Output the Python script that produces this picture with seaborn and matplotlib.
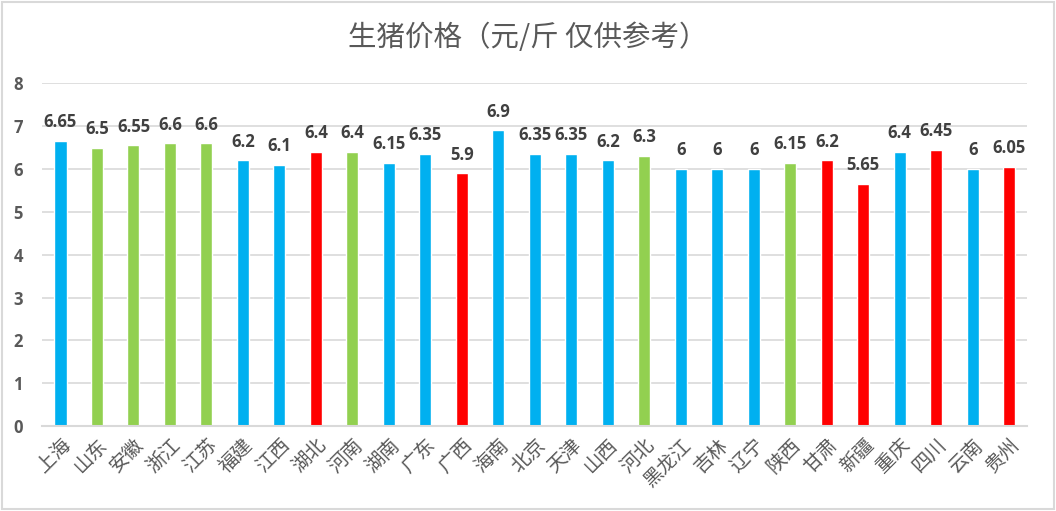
import matplotlib
matplotlib.use('Agg')
import matplotlib.pyplot as plt
import pandas as pd
import seaborn as sn

provinces = ['上海', '山东', '安徽', '浙江', '江苏', '福建', '江西', '湖北', '河南', '湖南',
             '广东', '广西', '海南', '北京', '天津', '山西', '河北', '黑龙江', '吉林', '辽宁',
             '陕西', '甘肃', '新疆', '重庆', '四川', '云南', '贵州']
prices = [6.65, 6.5, 6.55, 6.6, 6.6, 6.2, 6.1, 6.4, 6.4, 6.15,
          6.35, 5.9, 6.9, 6.35, 6.35, 6.2, 6.3, 6, 6, 6,
          6.15, 6.2, 5.65, 6.4, 6.45, 6, 6.05]
groups = ['b', 'g', 'g', 'g', 'g', 'b', 'b', 'r', 'g', 'b',
          'b', 'r', 'b', 'b', 'b', 'b', 'g', 'b', 'b', 'b',
          'g', 'r', 'r', 'b', 'r', 'b', 'r']
palette = {'b': '#00B0F0', 'g': '#92D050', 'r': '#FF0000'}
yticks = [0, 1, 2, 3, 4, 5, 6, 7, 8]

sn.set_style('white')
plt.rcParams['font.family'] = ['Noto Sans CJK SC', 'DejaVu Sans']
num_font = ['Open Sans', 'DejaVu Sans']

df = pd.DataFrame({'province': provinces, 'price': prices, 'group': groups})

fig = plt.figure(figsize=(10.56, 5.11), dpi=100)
ax = fig.add_axes([0.040, 0.166, 0.933, 0.671])
sn.barplot(data=df, x='province', y='price', hue='group', palette=palette,
           dodge=False, width=0.33, saturation=1, legend=False, ax=ax)

ax.set_ylim(0, 8)
ax.set_xlim(-0.5, len(provinces) - 0.5)
ax.set_yticks(yticks)
ax.set_yticklabels([str(t) for t in yticks], fontsize=12, fontweight='bold',
                   color='#595959', family=num_font)
ax.grid(axis='y', color='#D9D9D9', linewidth=1.2)
ax.set_axisbelow(True)
for s in ['top', 'right', 'left']:
    ax.spines[s].set_visible(False)
ax.spines['bottom'].set_color('#D9D9D9')
ax.spines['bottom'].set_linewidth(1.5)
ax.tick_params(axis='y', length=0, pad=14)
ax.tick_params(axis='x', length=0, pad=6)
ax.set_xlabel('')
ax.set_ylabel('')
ax.set_xticks(range(len(provinces)))
ax.set_xticklabels(provinces, rotation=45, ha='right', rotation_mode='anchor',
                   fontsize=14, color='#595959')

for i, v in enumerate(prices):
    ax.annotate(f'{v:g}', (i, v), xytext=(0, 7), textcoords='offset points',
                ha='center', va='bottom', fontsize=12, fontweight='bold',
                color='#404040', family=num_font)

fig.text(0.5, 0.925, '生猪价格（元/斤 仅供参考）', ha='center', va='center',
         fontsize=20.5, color='#595959')
fig.patches.append(plt.Rectangle((0.002, 0.003), 0.996, 0.994, transform=fig.transFigure,
                                 fill=False, edgecolor='#D9D9D9', linewidth=1.5))

fig.savefig('out.png', dpi=100)
